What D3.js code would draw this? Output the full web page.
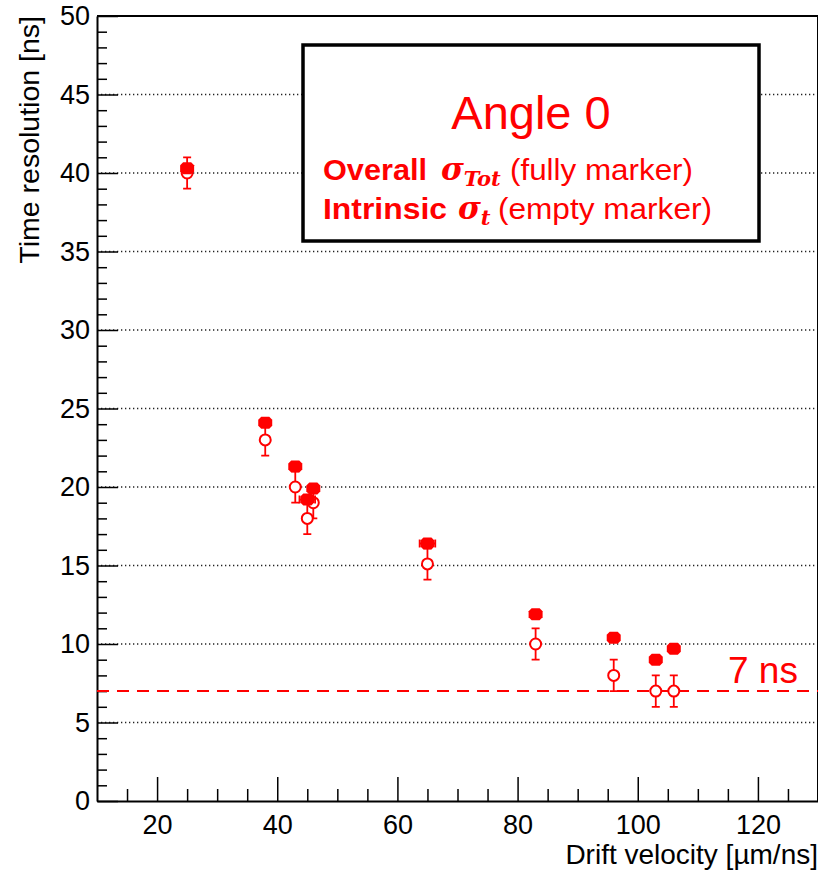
<!DOCTYPE html>
<html>
<head>
<meta charset="utf-8">
<script src="https://cdn.jsdelivr.net/npm/d3@7"></script>
<style>
  body { margin: 0; background: #fff; }
  svg { display: block; }
  text { font-family: "Liberation Sans", Arial, Helvetica, sans-serif; }
</style>
</head>
<body>
<svg id="chart" width="818" height="875"></svg>
<script>
// Drift velocity [um/ns] of each measurement
const driftVelocity = [25, 38, 43, 45, 46, 65, 83, 96, 103, 106];
// Overall time resolution sigma_Tot [ns] (filled markers) and its errors
const overallSigma = [40.3, 24.1, 21.3, 19.2, 19.9, 16.4, 11.9, 10.4, 9.0, 9.7];
const overallErrY  = [0.3, 0.3, 0.3, 0.3, 0.3, 0.3, 0.3, 0.3, 0.3, 0.3];
const overallErrX  = [0.5, 0.5, 0.5, 1.3, 0.5, 1.3, 0.5, 0.5, 0.5, 0.5];
// Intrinsic time resolution sigma_t [ns] (open markers) and its errors
const intrinsicSigma = [40, 23, 20, 18, 19, 15.1, 10, 8, 7, 7];
const intrinsicErrY  = [1, 1, 1, 1, 1, 1, 1, 1, 1, 1];
// Axis ticks
const xMajorTicks = [20, 40, 60, 80, 100, 120];
const yMajorTicks = [0, 5, 10, 15, 20, 25, 30, 35, 40, 45, 50];
const yGridTicks  = [5, 10, 15, 20, 25, 30, 35, 40, 45];
// Reference level
const referenceLevel = 7;
const referenceLabel = "7 ns";

const RED = "#ff0000";
const svg = d3.select("#chart");

const x = d3.scaleLinear().domain([10, 130]).range([97, 818]);
const y = d3.scaleLinear().domain([0, 50]).range([801, 16]);
const [x0, x1] = x.range();
const [yb, yt] = y.range();

// Dotted horizontal grid
svg.append("g").selectAll("line").data(yGridTicks).join("line")
  .attr("x1", x0).attr("x2", x1)
  .attr("y1", d => y(d)).attr("y2", d => y(d))
  .attr("stroke", "#222").attr("stroke-width", 1.3)
  .attr("stroke-dasharray", "1.3,2.7");

// Minor ticks
const xMinor = d3.range(15, 130, 5).filter(v => v % 20 !== 0);
const yMinor = d3.range(1, 50, 1).filter(v => v % 5 !== 0);
svg.append("g").attr("transform", `translate(0,${yb})`)
  .call(d3.axisBottom(x).tickValues(xMinor).tickSize(-12).tickSizeOuter(0).tickFormat(""))
  .call(g => g.select(".domain").remove())
  .selectAll("line").attr("stroke-width", 1.5);
svg.append("g").attr("transform", `translate(${x0},0)`)
  .call(d3.axisLeft(y).tickValues(yMinor).tickSize(-10).tickSizeOuter(0).tickFormat(""))
  .call(g => g.select(".domain").remove())
  .selectAll("line").attr("stroke-width", 1.5);

// Major axes
const xAxis = svg.append("g").attr("transform", `translate(0,${yb})`)
  .call(d3.axisBottom(x).tickValues(xMajorTicks).tickSize(-24).tickSizeOuter(0).tickPadding(14));
const yAxis = svg.append("g").attr("transform", `translate(${x0},0)`)
  .call(d3.axisLeft(y).tickValues(yMajorTicks).tickSize(-21).tickSizeOuter(0).tickPadding(7));
[xAxis, yAxis].forEach(a => {
  a.selectAll("line").attr("stroke-width", 1.5);
  a.select(".domain").attr("stroke-width", 2);
  a.selectAll("text").attr("font-size", 27).attr("fill", "#000")
    .style("font-family", '"Liberation Sans", Arial, sans-serif');
});

// Frame top and right
svg.append("line").attr("x1", x0).attr("x2", x1).attr("y1", yt).attr("y2", yt)
  .attr("stroke", "#000").attr("stroke-width", 2);
svg.append("line").attr("x1", x1).attr("x2", x1).attr("y1", yt).attr("y2", yb)
  .attr("stroke", "#000").attr("stroke-width", 2);

// Axis titles
svg.append("text")
  .attr("transform", `translate(39,${yt}) rotate(-90)`)
  .attr("text-anchor", "end").attr("font-size", 28.5)
  .text("Time resolution [ns]");
svg.append("text")
  .attr("x", 818).attr("y", 864).attr("text-anchor", "end").attr("font-size", 28)
  .text("Drift velocity [\u00b5m/ns]");

// Reference line
svg.append("line")
  .attr("x1", x0).attr("x2", x1)
  .attr("y1", y(referenceLevel)).attr("y2", y(referenceLevel))
  .attr("stroke", RED).attr("stroke-width", 2).attr("stroke-dasharray", "12,8");
svg.append("text")
  .attr("x", 728).attr("y", y(referenceLevel) - 8)
  .attr("font-size", 37).attr("fill", RED)
  .text(referenceLabel);

// Data
const pts = driftVelocity.map((v, i) => ({
  v, tot: overallSigma[i], eTot: overallErrY[i], exTot: overallErrX[i],
  intr: intrinsicSigma[i], eIntr: intrinsicErrY[i]
}));
const cap = 4;

function errorBars(g, key, errKey) {
  const e = g.append("g").attr("stroke", RED).attr("stroke-width", 1.8).attr("fill", "none");
  e.selectAll("path").data(pts).join("path")
    .attr("d", d => {
      const cx = x(d.v), top = y(d[key] + d[errKey]), bot = y(d[key] - d[errKey]);
      return `M${cx},${top}V${bot}M${cx - cap},${top}H${cx + cap}M${cx - cap},${bot}H${cx + cap}`;
    });
}

const marks = svg.append("g");
// Intrinsic: open circles
errorBars(marks, "intr", "eIntr");
marks.append("g").selectAll("circle").data(pts).join("circle")
  .attr("cx", d => x(d.v)).attr("cy", d => y(d.intr)).attr("r", 5.5)
  .attr("fill", "#fff").attr("stroke", RED).attr("stroke-width", 2);

// Overall: filled markers with x and y errors
const ov = marks.append("g").attr("stroke", RED).attr("stroke-width", 1.8).attr("fill", "none");
ov.selectAll("path").data(pts).join("path")
  .attr("d", d => {
    const cx = x(d.v), cy = y(d.tot);
    const l = x(d.v - d.exTot), r = x(d.v + d.exTot);
    const t = y(d.tot + d.eTot), b = y(d.tot - d.eTot);
    return `M${l},${cy}H${r}M${l},${cy - cap}V${cy + cap}M${r},${cy - cap}V${cy + cap}` +
           `M${cx},${t}V${b}`;
  });
// filled marker: small octagonal dot
const mw = 7, mh = 6, mc = 3;
marks.append("g").selectAll("path").data(pts).join("path")
  .attr("transform", d => `translate(${x(d.v)},${y(d.tot)})`)
  .attr("d", `M${-mw + mc},${-mh}H${mw - mc}L${mw},${-mh + mc}V${mh - mc}L${mw - mc},${mh}` +
             `H${-mw + mc}L${-mw},${mh - mc}V${-mh + mc}Z`)
  .attr("fill", RED);

// Legend box
const lg = svg.append("g").attr("transform", "translate(303,45)");
lg.append("rect").attr("width", 456).attr("height", 196)
  .attr("fill", "#fff").attr("stroke", "#000").attr("stroke-width", 3.5);
lg.append("text").attr("x", 228).attr("y", 84).attr("text-anchor", "middle")
  .attr("font-size", 47).attr("fill", RED).text("Angle 0");

const mathFont = '"DejaVu Serif", "Liberation Serif", serif';
function legendLine(yPos, label, labelW, sigmaX, sub, noteX, note, noteW) {
  lg.append("text").attr("x", 20).attr("y", yPos).attr("fill", RED)
    .attr("font-size", 29).attr("font-weight", "bold")
    .attr("textLength", labelW).attr("lengthAdjust", "spacingAndGlyphs").text(label);
  const s = lg.append("text").attr("x", sigmaX).attr("y", yPos).attr("fill", RED)
    .style("font-family", mathFont).attr("font-style", "italic").attr("font-weight", "bold");
  s.append("tspan").attr("font-size", 31).text("\u03c3");
  s.append("tspan").attr("font-size", 21).attr("dy", 6).text(sub);
  lg.append("text").attr("x", noteX).attr("y", yPos).attr("fill", RED)
    .attr("font-size", 29)
    .attr("textLength", noteW).attr("lengthAdjust", "spacingAndGlyphs").text(note);
}
legendLine(135, "Overall", 104, 138, "Tot", 207, "(fully marker)", 183);
legendLine(174, "Intrinsic", 124, 155, "t", 195, "(empty marker)", 214);
</script>
</body>
</html>
